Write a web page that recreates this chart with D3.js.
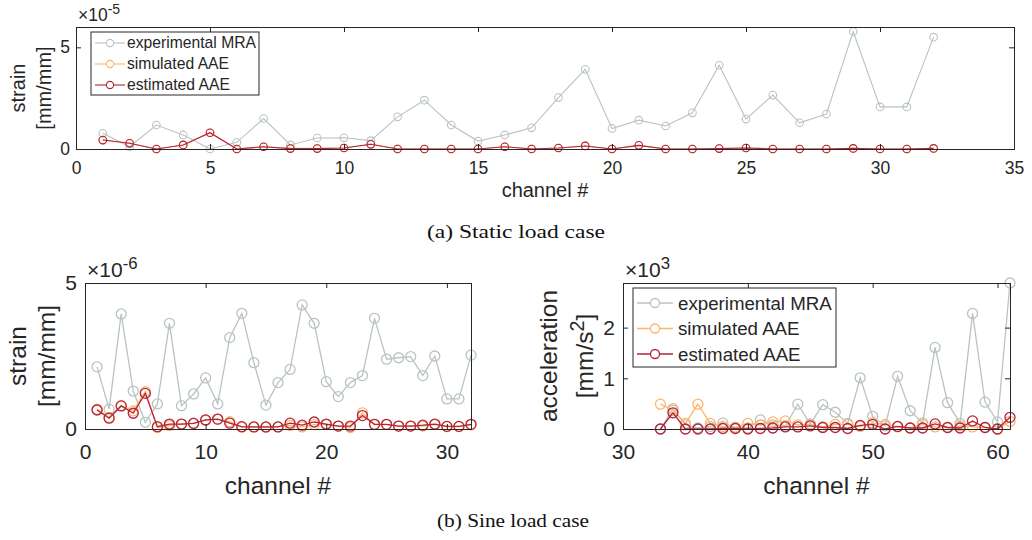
<!DOCTYPE html>
<html><head><meta charset="utf-8">
<script src="https://cdn.jsdelivr.net/npm/d3@7"></script>
<style>body{margin:0;background:#fff}svg{display:block}</style>
</head><body>
<svg id="c" width="1032" height="540"></svg>
<script>
// ---- data ----
const staticChannels = d3.range(1, 33);
const staticExp = [0.77,0.11,1.18,0.69,0.0,0.33,1.5,0.2,0.54,0.55,0.41,1.58,2.4,1.18,0.39,0.69,1.04,2.53,3.92,1.01,1.42,1.13,1.78,4.12,1.47,2.65,1.29,1.72,5.78,2.07,2.07,5.5];
const staticSim = [0.44,0.28,0.0,0.2,0.8,0.0,0.11,0.03,0.03,0.05,0.23,0.01,0.0,0.0,0.0,0.11,0.01,0.05,0.15,0.0,0.18,0.0,0.0,0.02,0.05,0.0,0.0,0.0,0.03,0.0,0.0,0.03];
const staticEst = [0.44,0.28,0.0,0.2,0.8,0.0,0.11,0.02,0.02,0.05,0.23,0.0,0.0,0.0,0.0,0.11,0.0,0.05,0.15,0.0,0.18,0.0,0.0,0.02,0.05,0.0,0.0,0.0,0.03,0.0,0.0,0.03];

const sineStrainChannels = d3.range(1, 33);
const sineStrainExp = [2.13,0.68,3.94,1.3,0.23,0.86,3.62,0.8,1.2,1.75,0.86,3.13,3.96,2.27,0.82,1.59,2.04,4.25,3.62,1.62,1.11,1.59,1.83,3.79,2.39,2.44,2.48,1.83,2.5,1.03,1.03,2.53];
const sineStrainSim = [0.68,0.4,0.8,0.62,1.28,0.05,0.12,0.17,0.2,0.3,0.33,0.25,0.06,0.07,0.06,0.07,0.12,0.07,0.15,0.15,0.1,0.05,0.55,0.15,0.15,0.1,0.1,0.1,0.15,0.08,0.08,0.14];
const sineStrainEst = [0.65,0.37,0.79,0.54,1.22,0.08,0.17,0.17,0.19,0.31,0.34,0.2,0.08,0.07,0.07,0.07,0.2,0.13,0.24,0.17,0.1,0.1,0.46,0.16,0.16,0.1,0.1,0.13,0.17,0.09,0.09,0.16];

const sineAccChannels = d3.range(33, 62);
const sineAccExp = [0.0,0.4,0.08,0.02,0.05,0.12,0.03,0.02,0.18,0.08,0.06,0.49,0.1,0.48,0.33,0.11,1.01,0.25,0.06,1.04,0.36,0.12,1.61,0.52,0.11,2.28,0.53,0.14,2.88];
const sineAccSim = [0.49,0.37,0.11,0.49,0.11,0.05,0.03,0.11,0.08,0.14,0.16,0.08,0.09,0.04,0.09,0.09,0.05,0.12,0.09,0.04,0.02,0.09,0.04,0.03,0.06,0.04,0.03,0.0,0.15];
const sineAccEst = [0.0,0.32,0.0,0.0,0.0,0.01,0.01,0.0,0.01,0.02,0.04,0.04,0.06,0.03,0.03,0.01,0.07,0.09,0.0,0.05,0.02,0.02,0.1,0.03,0.02,0.16,0.03,0.0,0.23];

const seriesNames = ["experimental MRA", "simulated AAE", "estimated AAE"];
const seriesColors = ["#b9c4c2", "#ffb36b", "#b2243c"];

// ---- drawing ----
const svg = d3.select("#c");
const ink = "#262626";
const font = "Liberation Sans, Arial, sans-serif";

function panel(o) {
  const g = svg.append("g");
  const x = d3.scaleLinear().domain(o.xDomain).range([o.left, o.right]);
  const y = d3.scaleLinear().domain(o.yDomain).range([o.bottom, o.top]);
  const series = [o.exp, o.sim, o.est];
  series.forEach((vals, i) => {
    const pts = vals.map((v, k) => [o.ch[k], v]);
    g.append("path").datum(pts)
      .attr("fill", "none").attr("stroke", seriesColors[i]).attr("stroke-width", o.lw)
      .attr("d", d3.line().x(d => x(d[0])).y(d => y(d[1])));
    g.selectAll(null).data(pts).enter().append("circle")
      .attr("cx", d => x(d[0])).attr("cy", d => y(d[1])).attr("r", o.r)
      .attr("fill", "none").attr("stroke", seriesColors[i]).attr("stroke-width", o.lw);
  });
  // axes
  const tl = 5;
  const xb = d3.axisBottom(x).tickValues(o.xTicks).tickSize(-tl).tickPadding(o.xpad).tickFormat(d3.format("d"));
  const xt = d3.axisTop(x).tickValues(o.xTicks).tickSize(-tl).tickFormat("");
  const yl = d3.axisLeft(y).tickValues(o.yTicks).tickSize(-tl).tickPadding(o.ypad).tickFormat(d3.format("d"));
  const yr = d3.axisRight(y).tickValues(o.yTicks).tickSize(-tl).tickFormat("");
  const axes = [
    g.append("g").attr("transform", `translate(0,${o.bottom})`).call(xb),
    g.append("g").attr("transform", `translate(0,${o.top})`).call(xt),
    g.append("g").attr("transform", `translate(${o.left},0)`).call(yl),
    g.append("g").attr("transform", `translate(${o.right},0)`).call(yr)
  ];
  axes.forEach(a => {
    a.select(".domain").attr("stroke", ink).attr("stroke-width", 1);
    a.selectAll(".tick line").attr("stroke", ink);
    a.selectAll("text").attr("fill", ink).attr("font-size", o.fs).attr("font-family", font);
  });
  // exponent
  const ex = g.append("text").attr("x", o.left + 2).attr("y", o.top - 6)
    .attr("fill", ink).attr("font-size", o.fs).attr("font-family", font);
  ex.append("tspan").text("\u00d710");
  ex.append("tspan").attr("dy", -o.fs * 0.38).attr("font-size", o.fs * 0.8).text(o.exponent);
  // xlabel
  g.append("text").attr("x", (o.left + o.right) / 2).attr("y", o.xlabY)
    .attr("text-anchor", "middle").attr("fill", ink).attr("font-size", o.lfs).attr("font-family", font)
    .text("channel #");
  // ylabel two lines
  const cy = (o.top + o.bottom) / 2;
  o.ylab.forEach((line, i) => {
    const t = g.append("text").attr("transform", `translate(${o.ylabX[i]},${cy}) rotate(-90)`)
      .attr("text-anchor", "middle").attr("fill", ink).attr("font-size", o.lfs).attr("font-family", font);
    if (typeof line === "string") t.text(line);
    else { t.append("tspan").text(line[0]); t.append("tspan").attr("dy", -o.lfs*0.38).attr("font-size", o.lfs*0.8).text(line[1]); t.append("tspan").attr("dy", o.lfs*0.38).text(line[2]); }
  });
  // legend
  if (o.legend) {
    const L = o.legend;
    g.append("rect").attr("x", L.x).attr("y", L.y).attr("width", L.w).attr("height", L.h)
      .attr("fill", "#fff").attr("stroke", ink).attr("stroke-width", 1);
    seriesNames.forEach((n, i) => {
      const yy = L.y + L.pad + i * L.step;
      g.append("line").attr("x1", L.x + 4).attr("x2", L.x + 4 + L.len).attr("y1", yy).attr("y2", yy)
        .attr("stroke", seriesColors[i]).attr("stroke-width", o.lw);
      g.append("circle").attr("cx", L.x + 4 + L.len / 2).attr("cy", yy).attr("r", L.r)
        .attr("fill", "#fff").attr("stroke", seriesColors[i]).attr("stroke-width", o.lw);
      g.append("text").attr("x", L.tx).attr("y", yy).attr("dy", "0.35em")
        .attr("fill", ink).attr("font-size", L.fs).attr("font-family", font).text(n);
    });
  }
}

panel({
  left: 76, right: 1014, top: 27, bottom: 149,
  xDomain: [0, 35], yDomain: [0, 6],
  xTicks: [0,5,10,15,20,25,30,35], yTicks: [0,5],
  ch: staticChannels, exp: staticExp, sim: staticSim, est: staticEst,
  r: 3.8, lw: 1.1, fs: 17.5, lfs: 20, exponent: "-5", xpad: 13, ypad: 6,
  xlabY: 197, ylab: ["strain", "[mm/mm]"], ylabX: [25, 51],
  legend: { x: 91, y: 32, w: 168, h: 63, pad: 11, step: 21, len: 30, r: 3.6, tx: 127, fs: 15.7 }
});

panel({
  left: 85, right: 471, top: 283, bottom: 429,
  xDomain: [0, 32], yDomain: [0, 5],
  xTicks: [0,10,20,30], yTicks: [0,5],
  ch: sineStrainChannels, exp: sineStrainExp, sim: sineStrainSim, est: sineStrainEst,
  r: 5, lw: 1.3, fs: 21, lfs: 24.5, exponent: "-6", xpad: 15, ypad: 8,
  xlabY: 494, ylab: ["strain", "[mm/mm]"], ylabX: [26, 55]
});

panel({
  left: 623, right: 1010, top: 283, bottom: 429,
  xDomain: [30, 61], yDomain: [0, 2.88],
  xTicks: [30,40,50,60], yTicks: [0,1,2],
  ch: sineAccChannels, exp: sineAccExp, sim: sineAccSim, est: sineAccEst,
  r: 5, lw: 1.3, fs: 21, lfs: 24.5, exponent: "3", xpad: 15, ypad: 8,
  xlabY: 494, ylab: ["acceleration", ["[mm/s", "2", "]"]], ylabX: [557, 593],
  legend: { x: 633, y: 288, w: 203, h: 79, pad: 15, step: 25.5, len: 36, r: 4.5, tx: 678, fs: 18.7 }
});

// captions
svg.append("text").attr("x", 427).attr("y", 238)
  .attr("textLength", 178).attr("lengthAdjust", "spacingAndGlyphs")
  .attr("font-family", "Liberation Serif, Times New Roman, serif").attr("font-size", 19).attr("fill", "#111")
  .text("(a) Static load case");
svg.append("text").attr("x", 437).attr("y", 527)
  .attr("textLength", 152).attr("lengthAdjust", "spacingAndGlyphs")
  .attr("font-family", "Liberation Serif, Times New Roman, serif").attr("font-size", 19).attr("fill", "#111")
  .text("(b) Sine load case");
</script>
</body></html>
